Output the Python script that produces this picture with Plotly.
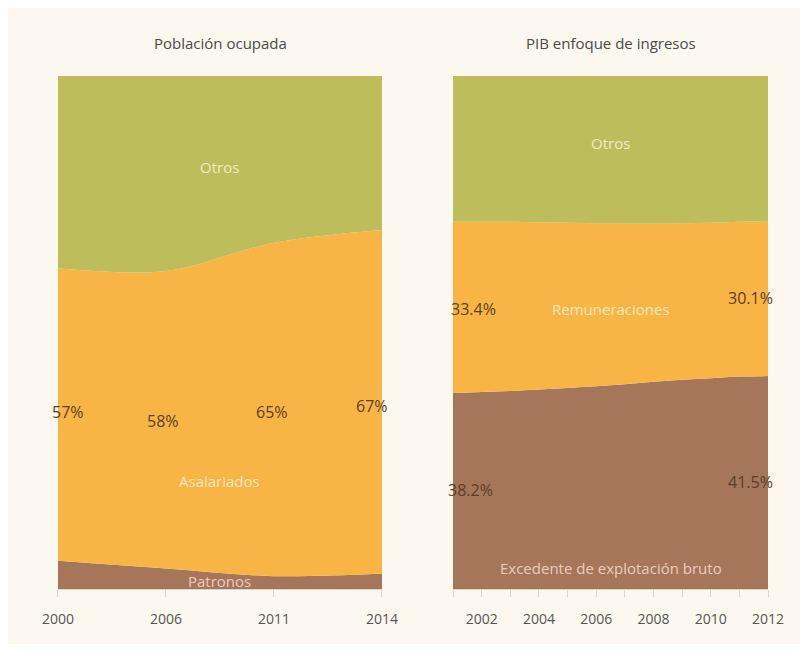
import plotly.graph_objects as go

# Población ocupada (%)
anios_pob = ["2000", "2006", "2011", "2014"]
patronos = [5.5, 4.0, 2.5, 3.0]
asalariados = [57, 58, 65, 67]
otros_pob = [37.5, 38.0, 32.5, 30.0]

# PIB enfoque de ingresos (%)
anios_pib = [2001, 2002, 2003, 2004, 2005, 2006, 2007, 2008, 2009, 2010, 2011, 2012]
excedente = [38.2, 38.4, 38.6, 38.9, 39.2, 39.5, 39.9, 40.4, 40.8, 41.1, 41.4, 41.5]
remuneraciones = [33.4, 33.2, 33.0, 32.6, 32.2, 31.8, 31.3, 30.8, 30.5, 30.3, 30.2, 30.1]
otros_pib = [100 - a - b for a, b in zip(excedente, remuneraciones)]
etiquetas_pib = ["2002", "2004", "2006", "2008", "2010", "2012"]

VERDE = "#BDBD5C"
NARANJA = "#F8B545"
CAFE = "#A6765B"
FONDO = "#FDF8EF"
FUENTE = "Open Sans, sans-serif"

fig = go.Figure()

for vals, col in [(patronos, CAFE), (asalariados, NARANJA), (otros_pob, VERDE)]:
    fig.add_trace(go.Scatter(x=anios_pob, y=vals, stackgroup="pob", mode="none",
                             fillcolor=col, line_shape="spline", xaxis="x", yaxis="y",
                             hoverinfo="skip"))

for vals, col in [(excedente, CAFE), (remuneraciones, NARANJA), (otros_pib, VERDE)]:
    fig.add_trace(go.Scatter(x=anios_pib, y=vals, stackgroup="pib", mode="none",
                             fillcolor=col, line_shape="spline", xaxis="x2", yaxis="y2",
                             hoverinfo="skip"))

eje_x = dict(showgrid=False, zeroline=False, showline=True, linecolor="#dcd6ca",
             ticks="outside", ticklen=7, tickcolor="#dcd6ca", ticklabelstandoff=10,
             automargin=False,
             tickfont=dict(family=FUENTE, size=14, color="#555"))
eje_y = dict(range=[0, 100], showgrid=False, zeroline=False, showticklabels=False,
             automargin=False)

# la página tiene 8px de margen, se ajusta el tamaño para que quepa
fig.update_layout(
    width=792, height=636,
    margin=dict(l=0, r=0, t=0, b=0),
    paper_bgcolor=FONDO, plot_bgcolor=FONDO,
    showlegend=False,
    xaxis=dict(eje_x, domain=[0.0631, 0.4722], type="category", range=[0, 3], anchor="y"),
    yaxis=dict(eje_y, domain=[0.0865, 0.8931], anchor="x"),
    xaxis2=dict(eje_x, domain=[0.5619, 0.9596], range=[2001, 2012], anchor="y2",
                tickvals=anios_pib,
                ticktext=[str(a) if str(a) in etiquetas_pib else "" for a in anios_pib]),
    yaxis2=dict(eje_y, domain=[0.0865, 0.8931], anchor="x2"),
)

def nota(texto, x, y, xref, yref, color, size=15):
    fig.add_annotation(text=texto, x=x, y=y, xref=xref, yref=yref, showarrow=False,
                       xanchor="center", yanchor="middle",
                       font=dict(family=FUENTE, size=size, color=color))

# títulos
nota("Población ocupada", 0.2677, 0.945, "paper", "paper", "#4a4a4a")
nota("PIB enfoque de ingresos", 0.7614, 0.945, "paper", "paper", "#4a4a4a")

# etiquetas de series
claro = "rgba(255,248,225,0.8)"
nota("Otros", 1.5, 82.3, "x", "y", claro)
nota("Asalariados", 1.5, 21, "x", "y", claro)
nota("Patronos", 1.5, 1.6, "x", "y", "rgba(245,215,200,0.9)")
nota("Otros", 2006.5, 86.9, "x2", "y2", claro)
nota("Remuneraciones", 2006.5, 54.6, "x2", "y2", claro)
nota("Excedente de explotación bruto", 2006.5, 4.1, "x2", "y2", "rgba(245,215,200,0.9)")

# porcentajes
oscuro = "#5a3f25"
pos_pct = [(0.09, 34.5), (0.97, 32.7), (1.98, 34.5), (2.91, 35.7)]
for (px, py), v in zip(pos_pct, asalariados):
    nota(f"{v}%", px, py, "x", "y", oscuro, 16)

nota(f"{remuneraciones[0]}%", 2001.7, 54.6, "x2", "y2", oscuro, 16)
nota(f"{remuneraciones[-1]}%", 2011.4, 56.7, "x2", "y2", oscuro, 16)
nota(f"{excedente[0]}%", 2001.6, 19.3, "x2", "y2", oscuro, 16)
nota(f"{excedente[-1]}%", 2011.4, 20.9, "x2", "y2", oscuro, 16)

fig.write_html("out.html")
